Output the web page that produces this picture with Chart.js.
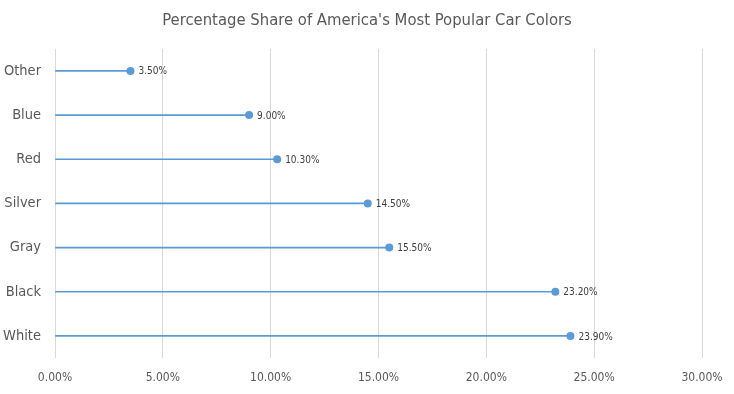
<!DOCTYPE html>
<html>
<head>
<meta charset="utf-8">
<script src="https://cdn.jsdelivr.net/npm/chart.js@4"></script>
<style>
body { margin: 0; background: #fff; }
#wrap { width: 734px; height: 394px; }
</style>
</head>
<body>
<div id="wrap"><canvas id="chart" width="734" height="394"></canvas></div>
<script>
var colors = ["Other", "Blue", "Red", "Silver", "Gray", "Black", "White"];
var share = [3.5, 9.0, 10.3, 14.5, 15.5, 23.2, 23.9];
var ticks = [0, 5, 10, 15, 20, 25, 30];

var font = "'DejaVu Sans Condensed', sans-serif";
var narrow = "'Liberation Sans Narrow', 'DejaVu Sans Condensed', sans-serif";

var pointLabels = {
    id: "pointLabels",
    afterDatasetsDraw: function(chart) {
        var ctx = chart.ctx;
        var meta = chart.getDatasetMeta(1);
        ctx.save();
        ctx.font = "10px " + narrow;
        ctx.fillStyle = "#404040";
        ctx.textBaseline = "middle";
        meta.data.forEach(function(pt, i) {
            ctx.fillText(share[i].toFixed(2) + "%", pt.x + 8, pt.y + 1);
        });
        ctx.restore();
    }
};

var ctx = document.getElementById("chart");
var myChart = new Chart(ctx, {
    type: "bar",
    data: {
        labels: colors,
        datasets: [
            {
                type: "bar",
                data: share,
                backgroundColor: "#5b9bd5",
                barThickness: 1
            },
            {
                type: "line",
                data: share,
                showLine: false,
                pointRadius: 4,
                pointBackgroundColor: "#5b9bd5",
                pointBorderColor: "#5b9bd5",
                pointBorderWidth: 0
            }
        ]
    },
    options: {
        responsive: false,
        animation: false,
        indexAxis: "y",
        layout: { padding: 0 },
        plugins: {
            legend: { display: false },
            tooltip: { enabled: false },
            title: {
                display: true,
                text: "Percentage Share of America's Most Popular Car Colors",
                color: "#595959",
                font: { family: font, size: 16.5, weight: "normal" },
                padding: { top: 11, bottom: 18 }
            }
        },
        scales: {
            x: {
                min: 0,
                max: 30,
                afterBuildTicks: function(axis) {
                    axis.ticks = ticks.map(function(v) { return { value: v }; });
                },
                afterFit: function(axis) {
                    axis.height = 36;
                    axis.paddingLeft = 0;
                    axis.paddingRight = 0;
                },
                ticks: {
                    color: "#595959",
                    font: { family: font, size: 12 },
                    padding: 13,
                    callback: function(v) { return v.toFixed(2) + "%"; }
                },
                grid: { color: "#d9d9d9", drawTicks: false },
                border: { display: false }
            },
            y: {
                afterFit: function(axis) { axis.width = 55; },
                ticks: {
                    color: "#595959",
                    font: { family: narrow, size: 14.5 },
                    padding: 14
                },
                grid: { display: false, drawTicks: false },
                border: { display: false }
            },
            spacer: {
                type: "linear",
                position: "right",
                afterFit: function(axis) { axis.width = 32; },
                ticks: { display: false },
                grid: { display: false, drawTicks: false },
                border: { display: false }
            }
        }
    },
    plugins: [pointLabels]
});
</script>
</body>
</html>
